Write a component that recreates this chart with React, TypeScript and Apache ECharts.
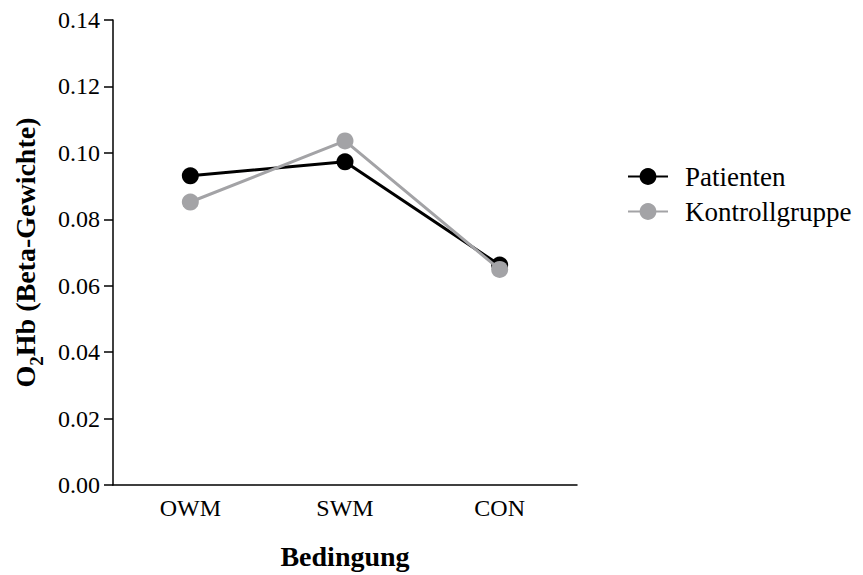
import React, { useEffect, useRef } from "react";
import * as echarts from "echarts";

const categories = ["OWM", "SWM", "CON"];
const patienten = [0.0931, 0.0973, 0.0662];
const kontrollgruppe = [0.0852, 0.1036, 0.0649];
const seriesNames = ["Patienten", "Kontrollgruppe"];
const yMin = 0;
const yMax = 0.14;
const yStep = 0.02;

const FONT = "Liberation Serif";

export default function App() {
  const ref = useRef<HTMLDivElement>(null);
  useEffect(() => {
    if (!ref.current) return;
    const chart = echarts.init(ref.current, undefined, { renderer: "svg" });
    chart.setOption({
      animation: false,
      backgroundColor: "#ffffff",
      textStyle: { fontFamily: FONT },
      grid: { left: 113, right: 286, top: 20, bottom: 87, containLabel: false },
      legend: {
        orient: "vertical",
        left: 622,
        top: 158,
        itemWidth: 40,
        itemHeight: 21,
        itemGap: 8,
        data: seriesNames,
        textStyle: { fontFamily: FONT, fontSize: 27, color: "#000", padding: [0, 0, 0, 12], lineHeight: 27 },
      },
      xAxis: {
        type: "category",
        data: categories,
        boundaryGap: true,
        name: "Bedingung",
        nameLocation: "middle",
        nameGap: 57,
        nameTextStyle: { fontFamily: FONT, fontSize: 28, fontWeight: "bold", color: "#000" },
        axisLine: { lineStyle: { color: "#000", width: 1.5 } },
        axisTick: { alignWithLabel: true, length: 8, lineStyle: { color: "#000", width: 1.5 } },
        axisLabel: { fontFamily: FONT, fontSize: 24, color: "#000", margin: 11 },
        splitLine: { show: false },
      },
      yAxis: {
        type: "value",
        min: yMin,
        max: yMax,
        interval: yStep,
        name: "{b|O}{s|2}{b|Hb (Beta-Gewichte)}",
        nameLocation: "middle",
        nameGap: 74,
        nameTextStyle: {
          fontFamily: FONT,
          color: "#000",
          rich: {
            b: { fontFamily: FONT, fontSize: 28, fontWeight: "bold", color: "#000", lineHeight: 32, verticalAlign: "bottom" },
            s: { fontFamily: FONT, fontSize: 19, fontWeight: "bold", color: "#000", lineHeight: 32, verticalAlign: "bottom", padding: [0, 0, -7, 0] },
          },
        },
        axisLine: { show: true, lineStyle: { color: "#000", width: 1.5 } },
        axisTick: { show: true, length: 9, lineStyle: { color: "#000", width: 1.5 } },
        axisLabel: {
          fontFamily: FONT,
          fontSize: 24,
          color: "#000",
          margin: 13,
          formatter: (v: number) => v.toFixed(2),
        },
        splitLine: { show: false },
      },
      series: [
        {
          name: seriesNames[0],
          type: "line",
          data: patienten,
          symbol: "circle",
          symbolSize: 17,
          lineStyle: { color: "#000", width: 3 },
          itemStyle: { color: "#000" },
          z: 2,
        },
        {
          name: seriesNames[1],
          type: "line",
          data: kontrollgruppe,
          symbol: "circle",
          symbolSize: 17,
          lineStyle: { color: "#a3a3a6", width: 3 },
          itemStyle: { color: "#a3a3a6" },
          z: 3,
        },
      ],
    });
    return () => chart.dispose();
  }, []);
  return <div ref={ref} style={{ width: 863, height: 575, position: "absolute", left: 0, top: 0 }} />;
}
